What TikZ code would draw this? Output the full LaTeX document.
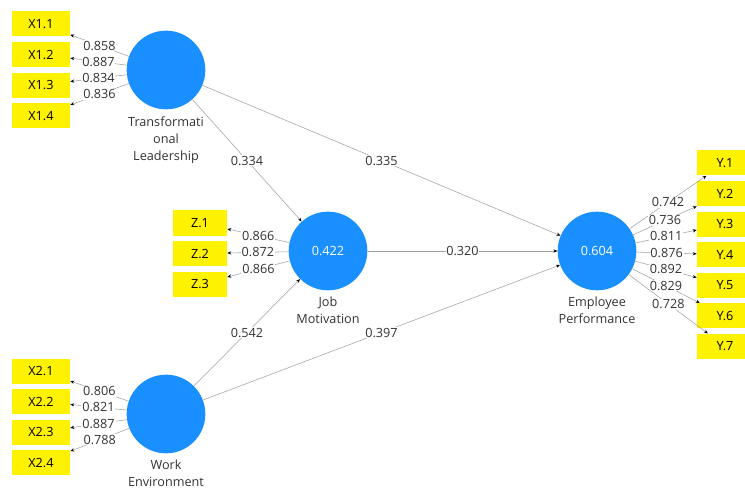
\documentclass[tikz,border=0pt]{standalone}
\usepackage{fontspec}
\setmainfont{Open Sans}
\usetikzlibrary{positioning,arrows.meta}
\definecolor{plsblue}{HTML}{1A8FFF}
\definecolor{plsgrey}{HTML}{A0A0A0}
\definecolor{plstext}{HTML}{333333}

\begin{document}
\begin{tikzpicture}[x=0.75pt,y=-0.75pt,
    font=\fontsize{9.5}{12.75}\selectfont,
    node distance=3.75pt,
    label distance=1.5pt,
    every label/.style={plstext,align=center},
    latent/.style={circle,fill=plsblue,text=white,minimum size=59pt,inner sep=0pt},
    indicator/.style={fill=yellow,minimum width=42pt,minimum height=18.75pt,inner sep=0pt},
    path/.style={draw=plsgrey,line width=0.4pt,-{Stealth[length=3pt,width=2.4pt,color=black]}},
    coef/.style={fill=white,inner sep=0.6pt,text=plstext}]

\useasboundingbox (0,0) rectangle (745,488);

% Latent variables
\node[  latent,
        label=below:{Transformati\\onal\\Leadership}
    ] (tl) at (166,70) {};
\node[  latent,
        label=below:{Job\\Motivation}
    ] (jm) at (328,251) {0.422};
\node[  latent,
        label=below:{Work\\Environment}
    ] (we) at (166,414) {};
\node[  latent,
        label=below:{Employee\\Performance}
    ] (ep) at (597,251) {0.604};

% Indicators
\node[indicator, minimum width=43.5pt] (x11) at (41,24) {X1.1};
\node[indicator, minimum width=43.5pt, below=of x11] (x12) {X1.2};
\node[indicator, minimum width=43.5pt, below=of x12] (x13) {X1.3};
\node[indicator, minimum width=43.5pt, below=of x13] (x14) {X1.4};

\node[indicator, minimum width=40.5pt] (z1) at (200,223) {Z.1};
\node[indicator, minimum width=40.5pt, below=of z1] (z2) {Z.2};
\node[indicator, minimum width=40.5pt, below=of z2] (z3) {Z.3};

\node[indicator, minimum width=43.5pt] (x21) at (41,371) {X2.1};
\node[indicator, minimum width=43.5pt, below=of x21] (x22) {X2.2};
\node[indicator, minimum width=43.5pt, below=of x22] (x23) {X2.3};
\node[indicator, minimum width=43.5pt, below=of x23] (x24) {X2.4};

\node[indicator] (y1) at (725,163) {Y.1};
\node[indicator, below=of y1] (y2) {Y.2};
\node[indicator, below=of y2] (y3) {Y.3};
\node[indicator, below=of y3] (y4) {Y.4};
\node[indicator, below=of y4] (y5) {Y.5};
\node[indicator, below=of y5] (y6) {Y.6};
\node[indicator, below=of y6] (y7) {Y.7};

% Loadings
\draw[path]
    (tl) edge node[coef] {0.858} (x11)
    (tl) edge node[coef] {0.887} (x12)
    (tl) edge node[coef] {0.834} (x13)
    (tl) edge node[coef] {0.836} (x14)
    (jm) edge node[coef] {0.866} (z1)
    (jm) edge node[coef] {0.872} (z2)
    (jm) edge node[coef] {0.866} (z3)
    (we) edge node[coef] {0.806} (x21)
    (we) edge node[coef] {0.821} (x22)
    (we) edge node[coef] {0.887} (x23)
    (we) edge node[coef] {0.788} (x24)
    (ep) edge node[coef] {0.742} (y1)
    (ep) edge node[coef] {0.736} (y2)
    (ep) edge node[coef] {0.811} (y3)
    (ep) edge node[coef] {0.876} (y4)
    (ep) edge node[coef] {0.892} (y5)
    (ep) edge node[coef] {0.829} (y6)
    (ep) edge node[coef] {0.728} (y7);

% Paths
\draw[path]
    (tl) edge node[coef] {0.334} (jm)
    (tl) edge node[coef] {0.335} (ep)
    (jm) edge node[coef] {0.320} (ep)
    (we) edge node[coef] {0.542} (jm)
    (we) edge node[coef] {0.397} (ep);
\end{tikzpicture}
\end{document}
